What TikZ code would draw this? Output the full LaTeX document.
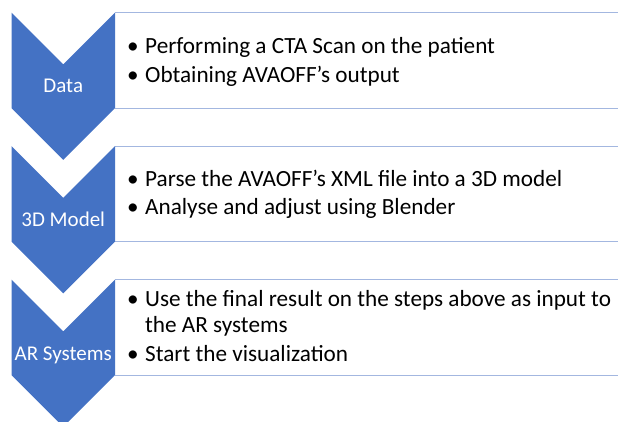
\documentclass[tikz,border=0pt]{standalone}
\usepackage{fontspec}
\setmainfont{Carlito}
\definecolor{chevblue}{HTML}{4472C4}
\definecolor{boxline}{HTML}{A3B7E0}
\tikzset{
  chevron/.style={fill=chevblue, draw=none},
  stepframe/.style={draw=boxline, line width=1pt, fill=white},
  steplabel/.style={text=white, font=\fontsize{21}{25}\selectfont, inner sep=0pt, anchor=base},
  itemline/.style={text=black, font=\fontsize{23.2}{28}\selectfont, inner sep=0pt, anchor=base west},
}
% one stage: frame on the right, chevron on the left drawn over its edge
\newcommand{\stagechevron}[1]{% #1 = top y
  \draw[stepframe] (115,#1) -- (640,#1) -- (640,#1-95.5) -- (115,#1-95.5);
  \fill[chevron] (11.5,#1) -- (63.25,#1-51.75) -- (115,#1) -- (115,#1-95.5)
    -- (63.25,#1-147.25) -- (11.5,#1-95.5) -- cycle;
}
\newcommand{\bul}{\llap{\textbullet\hspace{6.5pt}}}
\begin{document}
\begin{tikzpicture}[x=1pt,y=1pt]
\useasboundingbox (0,0) rectangle (618,421);
\clip (0,0) rectangle (618,421);

% Stage 1: Data
\stagechevron{408.3}
\node[steplabel] (lbl1) at (63.25,408.3-80.3) {Data};
\node[itemline] (i11) at (145,408.3-41) {\bul Performing a CTA Scan on the patient};
\node[itemline] (i12) at (145,408.3-69.7) {\bul Obtaining AVAOFF’s output};

% Stage 2: 3D Model
\stagechevron{274.8}
\node[steplabel] (lbl2) at (63.25,274.8-80.3) {3D Model};
\node[itemline] (i21) at (145,274.8-40) {\bul Parse the AVAOFF’s XML file into a 3D model};
\node[itemline] (i22) at (145,274.8-68.3) {\bul Analyse and adjust using Blender};

% Stage 3: AR Systems
\stagechevron{141.3}
\node[steplabel] (lbl3) at (63.25,141.3-80.3) {AR Systems};
\node[itemline] (i31) at (145,141.3-27) {\bul Use the final result on the steps above as input to};
\node[itemline] (i32) at (145,141.3-52.3) {the AR systems};
\node[itemline] (i33) at (145,141.3-82) {\bul Start the visualization};
\end{tikzpicture}
\end{document}
